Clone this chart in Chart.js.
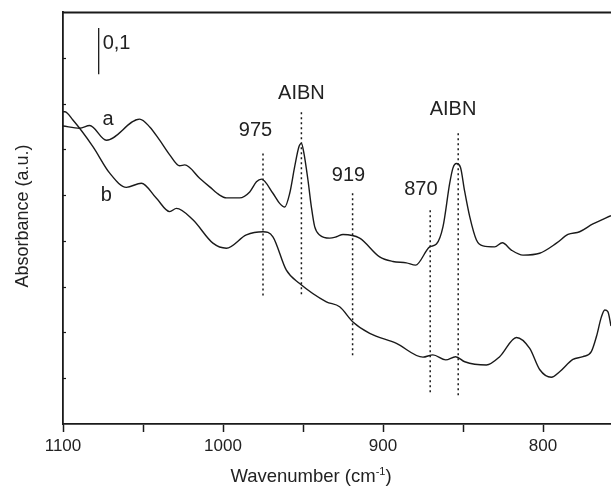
<!DOCTYPE html>
<html>
<head>
<meta charset="utf-8">
<script src="https://cdn.jsdelivr.net/npm/chart.js@4.4.1/dist/chart.umd.min.js"></script>
<style>
    html, body { margin: 0; padding: 0; background: #fff; }
    #spectrum { display: block; }
</style>
</head>
<body>
<canvas id="spectrum" width="611" height="489"></canvas>
<script>
// Spectrum a (wavenumber in cm-1, absorbance in a.u.)
const waveA = [1100, 1089.6, 1083.3, 1072.9, 1052.1, 1045.8, 1039.6, 1033.3, 1027.1, 1023.9,
    1014.6, 1008.3, 1002.1, 997.9, 989.6, 983.3, 979.1, 976.0, 968.8, 964.6,
    961.4, 958.3, 955.2, 952.5, 951.0, 949.6, 946.9, 944.8, 942.7, 939.6,
    933.3, 929.1, 925.0, 914.6, 902.1, 893.8, 885.4, 879.6, 870.8, 866.6, 862.5,
    858.3, 856.3, 854.1, 851.6, 849.1, 845.8, 841.6, 837.5, 830.2, 825.4,
    819.8, 812.5, 802.1, 791.6, 784.4, 777.1, 768.8, 757.5];
const absA = [0.651, 0.646, 0.652, 0.620, 0.666, 0.649, 0.620, 0.588, 0.564, 0.566,
    0.537, 0.518, 0.500, 0.494, 0.494, 0.507, 0.529, 0.535, 0.504, 0.482,
    0.474, 0.504, 0.562, 0.606, 0.613, 0.595, 0.533, 0.475, 0.431, 0.413,
    0.406, 0.409, 0.414, 0.406, 0.365, 0.355, 0.352, 0.347, 0.387, 0.393, 0.431,
    0.526, 0.559, 0.569, 0.561, 0.511, 0.453, 0.402, 0.389, 0.387, 0.396,
    0.380, 0.369, 0.373, 0.395, 0.414, 0.420, 0.437, 0.455];

// Spectrum b
const waveB = [1100, 1098.9, 1093.8, 1081.3, 1070.8, 1060.4, 1051.0, 1041.6, 1033.3, 1029.1,
    1018.8, 1006.3, 997.9, 985.4, 975.0, 968.8, 960.4, 952.1, 935.4, 927.1,
    918.8, 908.3, 891.6, 875.0, 868.8, 860.8, 854.6, 848.9, 835.4, 827.1,
    816.6, 808.3, 802.1, 794.8, 789.6, 781.3, 775.0, 769.8, 766.6, 763.5,
    761.4, 759.4, 757.5];
const absB = [0.682, 0.682, 0.664, 0.606, 0.548, 0.517, 0.526, 0.493, 0.464, 0.471,
    0.446, 0.395, 0.384, 0.413, 0.420, 0.409, 0.336, 0.307, 0.267, 0.256,
    0.223, 0.198, 0.176, 0.146, 0.151, 0.140, 0.147, 0.136, 0.129, 0.147,
    0.189, 0.165, 0.119, 0.102, 0.114, 0.141, 0.147, 0.158, 0.191, 0.234,
    0.249, 0.245, 0.214];

// Marked bands (dotted lines)
const bandPos = [975, 951, 919, 870.5, 853];
const bandTop = [0.591, 0.681, 0.504, 0.467, 0.635];
const bandBottom = [0.275, 0.278, 0.1435, 0.067, 0.056];

// Scale bar of 0,1 absorbance units
const scaleBarAt = 1077.7;
const scaleBar = [0.764, 0.865];

// Axis ticks
const xTickValues = [1100, 1050, 1000, 950, 900, 850, 800];
const yTickValues = [0.1, 0.2, 0.3, 0.4, 0.5, 0.6, 0.7, 0.8];

const fontFamily = "'Liberation Sans', Arial, Helvetica, sans-serif";
const ink = "#1a1a1a";

function toPoints(xs, ys) {
    return xs.map((x, i) => ({ x: x, y: ys[i] }));
}

const curveStyle = {
    borderColor: ink,
    borderWidth: 1.4,
    pointRadius: 0,
    fill: false,
    cubicInterpolationMode: "monotone",
};

const dottedStyle = {
    borderColor: ink,
    borderWidth: 1.5,
    borderDash: [2, 3],
    pointRadius: 0,
    fill: false,
    tension: 0,
};

// text labels in data coordinates
const labelItems = [
    { text: "a", x: 1071.9, y: 0.666 },
    { text: "b", x: 1072.9, y: 0.500 },
    { text: "975", x: 979.7, y: 0.641 },
    { text: "AIBN", x: 951.0, y: 0.7215 },
    { text: "919", x: 921.6, y: 0.543 },
    { text: "870", x: 876.3, y: 0.512 },
    { text: "AIBN", x: 856.25, y: 0.6873 },
];

const decorations = {
    id: "decorations",
    afterDraw(chart) {
        const { ctx, chartArea } = chart;
        const x = chart.scales.x;
        const y = chart.scales.y;
        ctx.save();
        ctx.strokeStyle = ink;
        ctx.fillStyle = "#222";

        // top frame line
        ctx.lineWidth = 1.8;
        ctx.beginPath();
        ctx.moveTo(chartArea.left, chartArea.top + 0.5);
        ctx.lineTo(chartArea.right, chartArea.top + 0.5);
        ctx.stroke();

        // small inward ticks on the left axis
        ctx.lineWidth = 1.2;
        yTickValues.forEach((v) => {
            const py = Math.round(y.getPixelForValue(v)) + 0.5;
            ctx.beginPath();
            ctx.moveTo(chartArea.left, py);
            ctx.lineTo(chartArea.left + 3, py);
            ctx.stroke();
        });

        // peak labels
        ctx.font = "20px " + fontFamily;
        ctx.textAlign = "center";
        ctx.textBaseline = "middle";
        labelItems.forEach((item) => {
            ctx.fillText(item.text, x.getPixelForValue(item.x), y.getPixelForValue(item.y));
        });

        // scale bar label
        ctx.textAlign = "left";
        ctx.fillText("0,1", x.getPixelForValue(scaleBarAt) + 4, y.getPixelForValue(0.8316));

        // x axis title with superscript
        const mainFont = "18.5px " + fontFamily;
        const supFont = "11px " + fontFamily;
        const part1 = "Wavenumber (cm";
        const sup = "-1";
        const part2 = ")";
        ctx.font = mainFont;
        const w1 = ctx.measureText(part1).width;
        const w3 = ctx.measureText(part2).width;
        ctx.font = supFont;
        const w2 = ctx.measureText(sup).width;
        const total = w1 + w2 + w3;
        let tx = 311 - total / 2;
        const base = 482;
        ctx.textBaseline = "alphabetic";
        ctx.font = mainFont;
        ctx.fillText(part1, tx, base);
        tx += w1;
        ctx.font = supFont;
        ctx.fillText(sup, tx, base - 7);
        tx += w2;
        ctx.font = mainFont;
        ctx.fillText(part2, tx, base);

        // y axis title
        ctx.translate(23, 216);
        ctx.rotate(-Math.PI / 2);
        ctx.textAlign = "center";
        ctx.textBaseline = "middle";
        ctx.font = "18px " + fontFamily;
        ctx.fillText("Absorbance (a.u.)", 0, 0);

        ctx.restore();
    },
};

const datasets = [
    { label: "a", data: toPoints(waveA, absA), ...curveStyle },
    { label: "b", data: toPoints(waveB, absB), ...curveStyle },
];
bandPos.forEach((w, i) => {
    datasets.push({
        label: "band " + w,
        data: [{ x: w, y: bandTop[i] }, { x: w, y: bandBottom[i] }],
        ...dottedStyle,
    });
});
datasets.push({
    label: "scale",
    data: [{ x: scaleBarAt, y: scaleBar[0] }, { x: scaleBarAt, y: scaleBar[1] }],
    borderColor: ink,
    borderWidth: 1.3,
    pointRadius: 0,
    tension: 0,
});

new Chart(document.getElementById("spectrum"), {
    type: "line",
    data: { datasets: datasets },
    plugins: [decorations],
    options: {
        responsive: false,
        animation: false,
        devicePixelRatio: 1,
        layout: { padding: { top: 12, left: 0, right: 0, bottom: 0 } },
        plugins: {
            legend: { display: false },
            tooltip: { enabled: false },
        },
        scales: {
            x: {
                type: "linear",
                reverse: true,
                min: 757.5,
                max: 1100,
                afterBuildTicks: (axis) => {
                    axis.ticks = xTickValues.map((v) => ({ value: v }));
                },
                afterFit: (axis) => {
                    axis.height = 65;
                },
                ticks: {
                    callback: (v) => (v % 100 === 0 ? String(v) : ""),
                    font: { family: fontFamily, size: 17 },
                    color: "#222",
                    padding: 4,
                    maxRotation: 0,
                    autoSkip: false,
                },
                grid: {
                    drawOnChartArea: false,
                    drawTicks: true,
                    tickLength: 8,
                    tickWidth: 1.5,
                    tickColor: ink,
                },
                border: { color: ink, width: 1.8 },
            },
            y: {
                min: 0,
                max: 0.9,
                afterFit: (axis) => {
                    axis.width = 63;
                },
                ticks: { display: false },
                grid: { display: false },
                border: { display: true, color: ink, width: 1.8 },
            },
        },
    },
});
</script>
</body>
</html>
